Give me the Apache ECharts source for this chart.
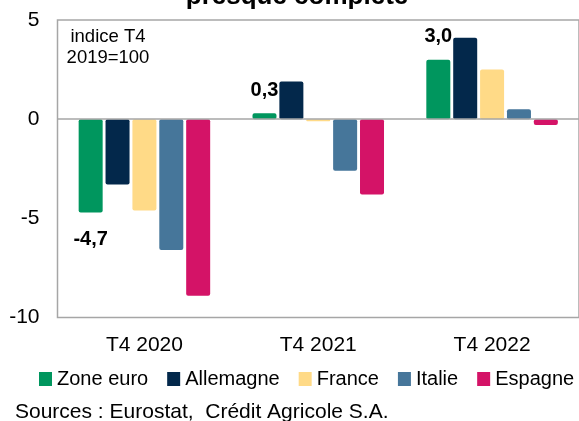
<!DOCTYPE html>
<html>
<head>
<meta charset="utf-8">
<script src="https://cdn.jsdelivr.net/npm/echarts@6/dist/echarts.min.js"></script>
<style>
  html, body { margin: 0; padding: 0; background: #fff; }
  #main { width: 579px; height: 421px; }
</style>
</head>
<body>
<div id="main"></div>
<script>
// données
var categories = ['T4 2020', 'T4 2021', 'T4 2022'];
var seriesNames = ['Zone euro', 'Allemagne', 'France', 'Italie', 'Espagne'];
var zoneEuro = [-4.7, 0.3, 3.0];
var allemagne = [-3.3, 1.9, 4.1];
var france = [-4.6, -0.1, 2.5];
var italie = [-6.6, -2.6, 0.5];
var espagne = [-8.9, -3.8, -0.3];
var colors = ['#00965e', '#03284b', '#ffda87', '#46769a', '#d41367'];

var font = 'Arial, "Liberation Sans", sans-serif';
var myChart = echarts.init(document.getElementById('main'));

var allData = [zoneEuro, allemagne, france, italie, espagne];
var series = allData.map(function (vals, i) {
  var s = {
    name: seriesNames[i],
    type: 'bar',
    barWidth: 24,
    barGap: '12%',
    itemStyle: { color: colors[i], borderRadius: 2 },
    data: vals
  };
  if (i === 0) {
    // étiquettes seulement sur la zone euro
    s.data = vals.map(function (v) {
      return {
        value: v,
        label: v < 0 ? { position: 'bottom', distance: 17 } : { position: 'top', distance: 13 }
      };
    });
    s.label = {
      show: true,
      color: '#000',
      fontFamily: font,
      fontWeight: 'bold',
      fontSize: 20,
      formatter: function (p) { return p.value.toFixed(1).replace('.', ','); }
    };
    s.markLine = {
      silent: true,
      symbol: 'none',
      label: { show: false },
      lineStyle: { color: '#a6a6a6', type: 'solid', width: 1.5 },
      data: [{ yAxis: 0 }]
    };
  }
  return s;
});

var option = {
  animation: false,
  color: colors,
  grid: {
    left: 57.5,
    right: -4,
    top: 20,
    bottom: 103.5,
    show: true,
    borderColor: '#a6a6a6',
    borderWidth: 1.5
  },
  legend: {
    left: 34,
    top: 364,
    width: 545,
    itemWidth: 13,
    itemHeight: 14,
    itemGap: 19,
    icon: 'rect',
    textStyle: { fontFamily: font, fontSize: 20, color: '#000' },
    data: seriesNames
  },
  xAxis: {
    type: 'category',
    data: categories,
    axisLine: { show: false, onZero: false },
    axisTick: { show: false },
    axisLabel: { margin: 17, fontFamily: font, fontSize: 21, color: '#000' }
  },
  yAxis: {
    type: 'value',
    min: -10,
    max: 5,
    interval: 5,
    axisLine: { show: false },
    axisTick: { show: false },
    splitLine: { show: false },
    axisLabel: { margin: 18, fontFamily: font, fontSize: 21, color: '#000' }
  },
  graphic: [
    {
      type: 'text',
      style: {
        text: 'presque complète',
        x: 297, y: -3,
        textAlign: 'center',
        textVerticalAlign: 'middle',
        font: 'bold 26px ' + font,
        fill: '#000'
      }
    },
    {
      type: 'text',
      style: {
        text: 'indice T4\n2019=100',
        x: 108, y: 26,
        textAlign: 'center',
        textVerticalAlign: 'top',
        font: '18.5px ' + font,
        lineHeight: 21,
        fill: '#000'
      }
    },
    {
      type: 'text',
      style: {
        text: 'Sources : Eurostat,  Crédit Agricole S.A.',
        x: 15, y: 412,
        textVerticalAlign: 'middle',
        font: '21px ' + font,
        fill: '#000'
      }
    }
  ],
  series: series
};

myChart.setOption(option);
</script>
</body>
</html>
